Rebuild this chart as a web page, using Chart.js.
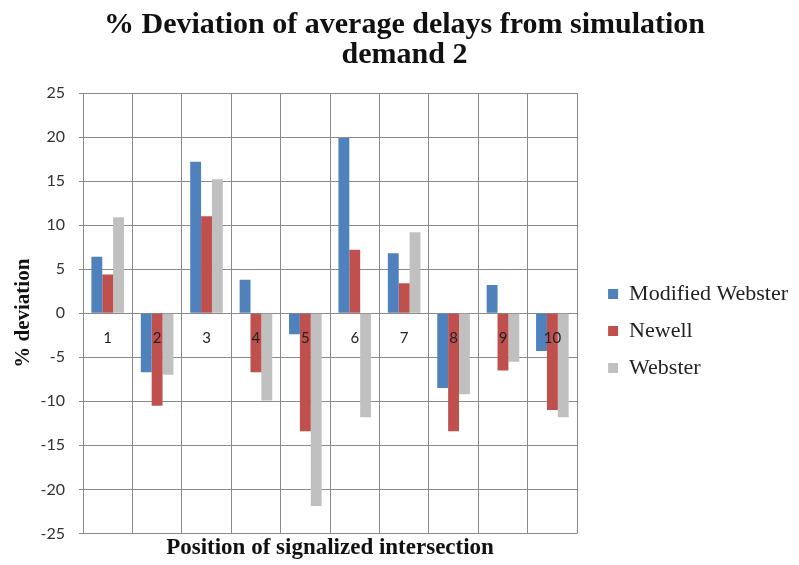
<!DOCTYPE html>
<html>
<head>
<meta charset="utf-8">
<script src="https://cdn.jsdelivr.net/npm/chart.js@4"></script>
<style>
  html, body { margin: 0; padding: 0; background: #fff; }
  #wrap { width: 799px; height: 565px; }
</style>
</head>
<body>
<div id="wrap"><canvas id="barChart" width="799" height="565"></canvas></div>
<script>
const categories = ["1", "2", "3", "4", "5", "6", "7", "8", "9", "10"];
const modifiedWebster = [6.4, -6.7, 17.2, 3.8, -2.4, 19.9, 6.8, -8.5, 3.2, -4.3];
const newell = [4.4, -10.5, 11.0, -6.7, -13.4, 7.2, 3.4, -13.4, -6.5, -11.0];
const webster = [10.9, -7.0, 15.2, -9.9, -21.9, -11.8, 9.2, -9.2, -5.5, -11.8];
const yTicks = [-25, -20, -15, -10, -5, 0, 5, 10, 15, 20, 25];

const gridColor = "#8a8a8a";
const serif = "'Liberation Serif', 'DejaVu Serif', serif";

const ctx = document.getElementById("barChart").getContext("2d");
new Chart(ctx, {
  type: "bar",
  data: {
    labels: categories,
    datasets: [
      { label: "Modified Webster", data: modifiedWebster, backgroundColor: "#4F81BD" },
      { label: "Newell", data: newell, backgroundColor: "#C0504D" },
      { label: "Webster", data: webster, backgroundColor: "#C0C0C0" }
    ]
  },
  options: {
    responsive: false,
    animation: false,
    layout: { padding: { left: 11, right: 1, top: 6, bottom: 3 } },
    datasets: {
      bar: { barPercentage: 1.0, categoryPercentage: 0.66 }
    },
    scales: {
      x: {
        position: { y: 0 },
        afterFit: (scale) => { scale.height = 0; },
        grid: { offset: true, color: gridColor, drawTicks: false },
        border: { color: gridColor },
        // z 1 puts the numbers over the bars, like the original
        ticks: { z: 1, color: "#222", padding: 16, font: { family: "Lato", size: 15 } }
      },
      y: {
        min: -25,
        max: 25,
        afterBuildTicks: (scale) => { scale.ticks = yTicks.map(v => ({ value: v })); },
        afterFit: (scale) => { scale.width = 72; },
        grid: { color: gridColor, tickLength: 4 },
        border: { color: gridColor },
        ticks: { color: "#333", padding: 14, font: { family: "Lato", size: 16 } },
        title: {
          display: true,
          text: "% deviation",
          color: "#111",
          padding: { top: 0, bottom: 4 },
          font: { family: serif, size: 21, weight: "bold" }
        }
      },
      // empty right axis, only keeps a gap between plot and legend
      gap: {
        type: "linear",
        axis: "y",
        position: "right",
        afterFit: (scale) => { scale.width = 16; },
        grid: { display: false },
        border: { display: false },
        ticks: { display: false }
      }
    },
    plugins: {
      title: {
        display: true,
        text: ["% Deviation of average delays from simulation", "demand 2"],
        color: "#111",
        padding: { top: 4, bottom: 23 },
        font: { family: serif, size: 30, weight: "bold", lineHeight: 1.0 }
      },
      subtitle: {
        display: true,
        position: "bottom",
        fullSize: false,
        text: "Position of signalized intersection",
        color: "#111",
        padding: { top: 1, bottom: 0 },
        font: { family: serif, size: 23, weight: "bold" }
      },
      legend: {
        position: "right",
        maxWidth: 220,
        title: { display: true, text: " ", padding: { top: 82, bottom: 0 }, font: { size: 10 } },
        labels: {
          color: "#222",
          boxWidth: 10,
          boxHeight: 10,
          padding: 15,
          font: { family: serif, size: 22 }
        }
      },
      tooltip: { enabled: false }
    }
  }
});
</script>
</body>
</html>
